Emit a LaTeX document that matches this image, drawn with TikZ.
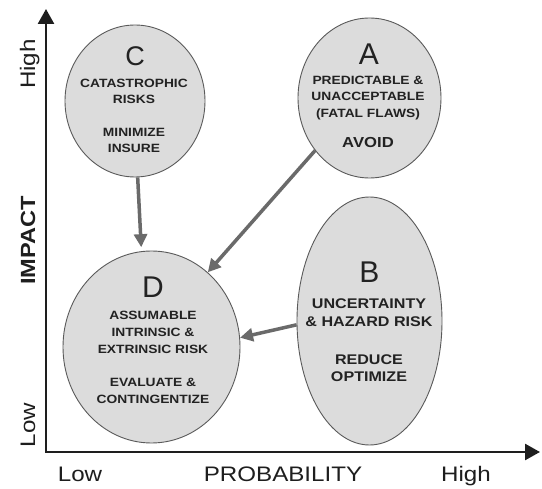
\documentclass[tikz,border=0pt]{standalone}
\usepackage{fontspec}
\setmainfont{Liberation Sans}[FakeStretch=1.15]
\newfontfamily\letterfont{Liberation Sans}
\usetikzlibrary{shapes.geometric,arrows.meta}
\definecolor{fillgray}{HTML}{DCDCDC}
\definecolor{edgegray}{HTML}{5A5A5A}
\definecolor{arrowgray}{HTML}{6A6A6A}
\definecolor{axisblack}{HTML}{1E1E1E}
\definecolor{textdark}{HTML}{222222}
\begin{document}
\begin{tikzpicture}[x=1pt,y=-1pt,
  zone/.style={ellipse, draw=edgegray, line width=0.9pt, fill=fillgray, inner sep=0pt},
  bigletter/.style={anchor=base, inner sep=0pt, text=textdark, font=\letterfont\fontsize{30}{30}\selectfont},
  body/.style={anchor=base, inner sep=0pt, text=textdark, font=\bfseries\fontsize{12}{12}\selectfont},
  bodyB/.style={anchor=base, inner sep=0pt, text=textdark, font=\bfseries\fontsize{14}{14}\selectfont},
  bodyBig/.style={anchor=base, inner sep=0pt, text=textdark, font=\bfseries\fontsize{14.5}{14.5}\selectfont},
  axislabel/.style={anchor=base, inner sep=0pt, text=axisblack, font=\fontsize{21}{21}\selectfont},
  axislabelbold/.style={anchor=base, inner sep=0pt, text=axisblack, font=\bfseries\fontsize{20.5}{20.5}\selectfont},
  axisline/.style={draw=axisblack, line width=2.6pt, line join=miter,
    {Triangle[length=15pt,width=16pt]}-{Triangle[length=15pt,width=16pt]}},
  link/.style={draw=arrowgray, line width=3.5pt, -{Triangle[length=13pt,width=13pt]}}
]
\useasboundingbox[fill=white] (0,0) rectangle (542,489);

% axes
\coordinate (O) at (46,452);
\coordinate (Ytop) at (46,9);
\coordinate (Xend) at (540,452);
\draw[axisline] (Ytop) -- (O) -- (Xend);

% axis labels
\node[axislabel, rotate=90] (yhigh) at (35,64) {High};
\node[axislabelbold, rotate=90] (ylab) at (35,240.5) {IMPACT};
\node[axislabel, rotate=90] (ylow) at (35,425) {Low};
\node[axislabel] (xlow) at (80,482) {Low};
\node[axislabel] (xlab) at (283,482) {PROBABILITY};
\node[axislabel] (xhigh) at (466,482) {High};

% zones
\node[zone, minimum width=140pt, minimum height=152pt] (C) at (135,101) {};
\node[zone, minimum width=143pt, minimum height=160pt] (A) at (369.5,98) {};
\node[zone, minimum width=177pt, minimum height=192pt] (D) at (151.5,347) {};
\node[zone, minimum width=145pt, minimum height=248pt] (B) at (369.5,321) {};

% C text
\node[bigletter, font=\letterfont\fontsize{27}{27}\selectfont] (Cl) at (135,66) {C};
\node[body] (C1) at (134,87.3) {CATASTROPHIC};
\node[body] (C2) at (134,103.3) {RISKS};
\node[body] (C3) at (134,136.8) {MINIMIZE};
\node[body] (C4) at (134,152.3) {INSURE};

% A text
\node[bigletter] (Al) at (369,64.7) {A};
\node[body] (A1) at (368,84.8) {PREDICTABLE \&};
\node[body] (A2) at (368,101) {UNACCEPTABLE};
\node[body] (A3) at (368,117.3) {(FATAL FLAWS)};
\node[bodyBig] (A4) at (368,147.2) {AVOID};

% D text
\node[bigletter] (Dl) at (153,298) {D};
\node[body] (D1) at (153,319.3) {ASSUMABLE};
\node[body] (D2) at (153,336.8) {INTRINSIC \&};
\node[body] (D3) at (153,353.3) {EXTRINSIC RISK};
\node[body] (D4) at (153,386.8) {EVALUATE \&};
\node[body] (D5) at (153,403.3) {CONTINGENTIZE};

% B text
\node[bigletter] (Bl) at (369.5,283) {B};
\node[bodyB] (B1) at (369,309) {UNCERTAINTY};
\node[bodyB] (B2) at (369,327) {\& HAZARD RISK};
\node[bodyB] (B3) at (369,365) {REDUCE};
\node[bodyB] (B4) at (369,382) {OPTIMIZE};

% connectors
\draw[link, shorten >=4pt] (C.272) -- (D.96);
\draw[link] (A.224) -- (D.53);
\draw[link] (B.183) -- (D.6);
\end{tikzpicture}
\end{document}
